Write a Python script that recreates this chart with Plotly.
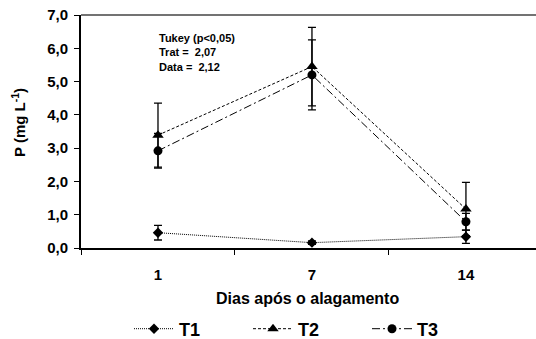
import plotly.graph_objects as go

days = ["1", "7", "14"]
t1 = [0.46, 0.16, 0.34]
t1_err = [0.22, 0.05, 0.2]
t2 = [3.39, 5.45, 1.17]
t2_err = [0.96, 1.18, 0.8]
t3 = [2.92, 5.2, 0.79]
t3_err = [0.52, 1.05, 0.25]
y_ticks = [0, 1, 2, 3, 4, 5, 6, 7]
y_tick_labels = ["0,0", "1,0", "2,0", "3,0", "4,0", "5,0", "6,0", "7,0"]
tukey_lines = ["Tukey (p<0,05)", "Trat =  2,07", "Data =  2,12"]

W, H = 536, 339
L, R, T, B = 81, 0, 15, 91
pw, ph = W - L - R, H - T - B

font = "Liberation Sans, Arial, sans-serif"

def px_x(x):
    return (x - L) / pw

def px_y(y):
    return (T + ph - y) / ph

def err(vals):
    return dict(type="data", array=vals, visible=True, color="black", thickness=1.3, width=4)

fig = go.Figure()
fig.add_trace(go.Scatter(x=days, y=t1, name="<b>T1</b>", mode="lines+markers",
                         line=dict(color="black", width=1, dash="1px,1px"),
                         marker=dict(symbol="diamond", size=8, color="black"),
                         error_y=err(t1_err)))
fig.add_trace(go.Scatter(x=days, y=t2, name="<b>T2</b>", mode="lines+markers",
                         line=dict(color="black", width=1, dash="3px,2px"),
                         marker=dict(symbol="triangle-up", size=10, color="black"),
                         error_y=err(t2_err)))
fig.add_trace(go.Scatter(x=days, y=t3, name="<b>T3</b>", mode="lines+markers",
                         line=dict(color="black", width=1, dash="8px,3px,2px,3px"),
                         marker=dict(symbol="circle", size=9, color="black"),
                         error_y=err(t3_err)))

fig.update_layout(
    width=W, height=H,
    margin=dict(l=L, r=R, t=T, b=B, pad=0, autoexpand=False),
    paper_bgcolor="white", plot_bgcolor="white",
    font=dict(family=font, color="black"),
    showlegend=True,
    legend=dict(orientation="h", x=px_x(129), xanchor="left",
                y=px_y(329), yanchor="middle",
                font=dict(size=18, family=font, color="black"),
                entrywidth=64, entrywidthmode="pixels",
                bgcolor="rgba(0,0,0,0)", itemwidth=40, tracegroupgap=0),
    xaxis=dict(type="category", range=[-0.5, 2.455], showgrid=False, zeroline=False,
               showline=True, linecolor="black", linewidth=2, mirror=False,
               ticks="outside", ticklen=5, tickwidth=1, tickcolor="black",
               tickson="boundaries", ticklabelstandoff=12, automargin=False,
               tickfont=dict(size=15, family=font, color="black"),
               tickvals=days, ticktext=["<b>%s</b>" % d for d in days]),
    yaxis=dict(range=[0, 7], showgrid=False, zeroline=False,
               showline=True, linecolor="black", linewidth=2, automargin=False,
               ticks="outside", ticklen=5, tickwidth=1, tickcolor="black",
               ticklabelstandoff=3,
               tickvals=y_ticks, ticktext=["<b>%s</b>" % t for t in y_tick_labels],
               tickfont=dict(size=15, family=font, color="black")),
)

# top border line
fig.add_shape(type="line", xref="paper", yref="paper", x0=0, x1=1, y0=1, y1=1,
              line=dict(color="#444", width=1.5))

fig.add_annotation(xref="paper", yref="paper", x=px_x(18), y=px_y(123),
                   text="<b>P (mg L<sup>-1</sup>)</b>", textangle=-90, showarrow=False,
                   font=dict(size=15, family=font, color="black"), xanchor="center", yanchor="middle")
fig.add_annotation(xref="paper", yref="paper", x=px_x(307), y=px_y(298),
                   text="<b>Dias após o alagamento</b>", showarrow=False,
                   font=dict(size=16, family=font, color="black"), xanchor="center", yanchor="middle")
fig.add_annotation(xref="paper", yref="paper", x=px_x(158), y=px_y(31),
                   text="<br>".join("<b>%s</b>" % s for s in tukey_lines),
                   showarrow=False, align="left", xanchor="left", yanchor="top",
                   borderpad=0, font=dict(size=11, family=font, color="black"))

fig.write_html("out.html", config={"displayModeBar": False},
               post_script="document.body.style.margin='0';document.body.style.overflow='hidden';")
